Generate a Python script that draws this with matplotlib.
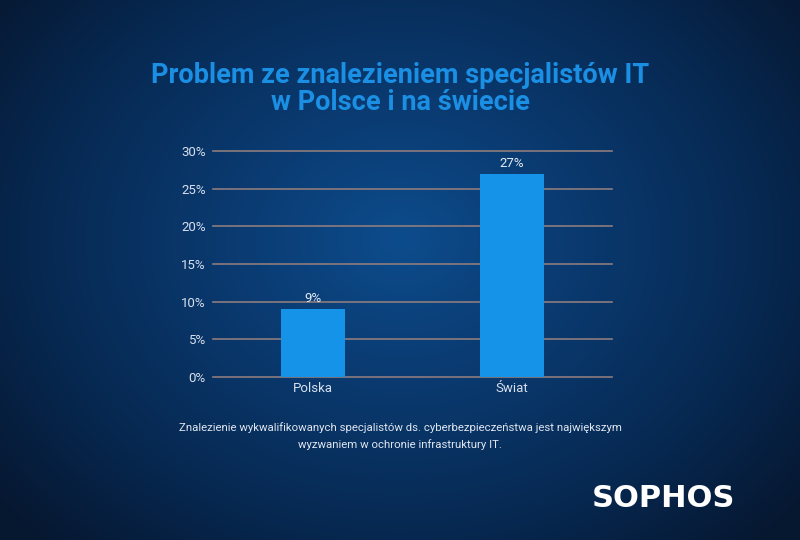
import numpy as np
import matplotlib
matplotlib.use("Agg")
import matplotlib.pyplot as plt
from matplotlib.colors import LinearSegmentedColormap

categories = ["Polska", "Świat"]
values = [9, 27]
yticks = [0, 5, 10, 15, 20, 25, 30]
ytick_labels = ["0%", "5%", "10%", "15%", "20%", "25%", "30%"]
title = "Problem ze znalezieniem specjalistów IT\nw Polsce i na świecie"
subtitle = ("Znalezienie wykwalifikowanych specjalistów ds. cyberbezpieczeństwa jest największym\n"
            "wyzwaniem w ochronie infrastruktury IT.")

fig = plt.figure(figsize=(8, 5.4), dpi=100)

# background radial gradient
bg = fig.add_axes([0, 0, 1, 1], zorder=0)
h, w = 540, 800
yy, xx = np.mgrid[0:h, 0:w]
cx, cy = 400, 240
d = np.sqrt(((xx - cx) / 520.0) ** 2 + ((yy - cy) / 420.0) ** 2)
d = np.clip(d, 0, 1)
cmap = LinearSegmentedColormap.from_list("bg", ["#0d4c8c", "#0a3a70", "#072a54", "#061730"])
bg.imshow(d, cmap=cmap, aspect="auto", extent=[0, 1, 0, 1], origin="upper")
bg.axis("off")

ax = fig.add_axes([0.266, 0.302, 0.499, 0.4185], zorder=1)
ax.patch.set_alpha(0)
x = np.arange(len(categories))
bars = ax.bar(x, values, width=0.32, color="#1493e8", zorder=3)
ax.set_xlim(-0.5, 1.5)
ax.set_ylim(0, 30)
ax.set_yticks(yticks)
ax.set_yticklabels(ytick_labels)
ax.set_xticks(x)
ax.set_xticklabels(categories)
for s in ax.spines.values():
    s.set_visible(False)
ax.grid(axis="y", color="#8d7c7e", linewidth=1.2, zorder=1)
for gl in ax.yaxis.get_gridlines():
    gl.set_clip_on(False)
ax.tick_params(axis="both", length=0, colors="#d8e0ee", labelsize=9.5)
ax.tick_params(axis="y", pad=5)
ax.tick_params(axis="x", pad=4)
for lbl in ax.get_xticklabels() + ax.get_yticklabels():
    lbl.set_family("Roboto")
for b, v in zip(bars, values):
    ax.text(b.get_x() + b.get_width() / 2, v + 0.5, f"{v}%", ha="center", va="bottom",
            color="#e6ecf5", fontsize=9.5, family="Roboto")

fig.text(0.5, 0.836, title, ha="center", va="center", fontsize=19.5, fontweight="bold",
         color="#1a8fe3", family="Roboto", linespacing=1.0)
fig.text(0.5, 0.192, subtitle, ha="center", va="center", fontsize=8.2,
         color="#e0e6f0", linespacing=1.65, family="Roboto")
fig.text(0.829, 0.077, "SOPHOS", ha="center", va="center", fontsize=22, fontweight="bold",
         color="white", family="DejaVu Sans")

fig.savefig("out.png", dpi=100)
